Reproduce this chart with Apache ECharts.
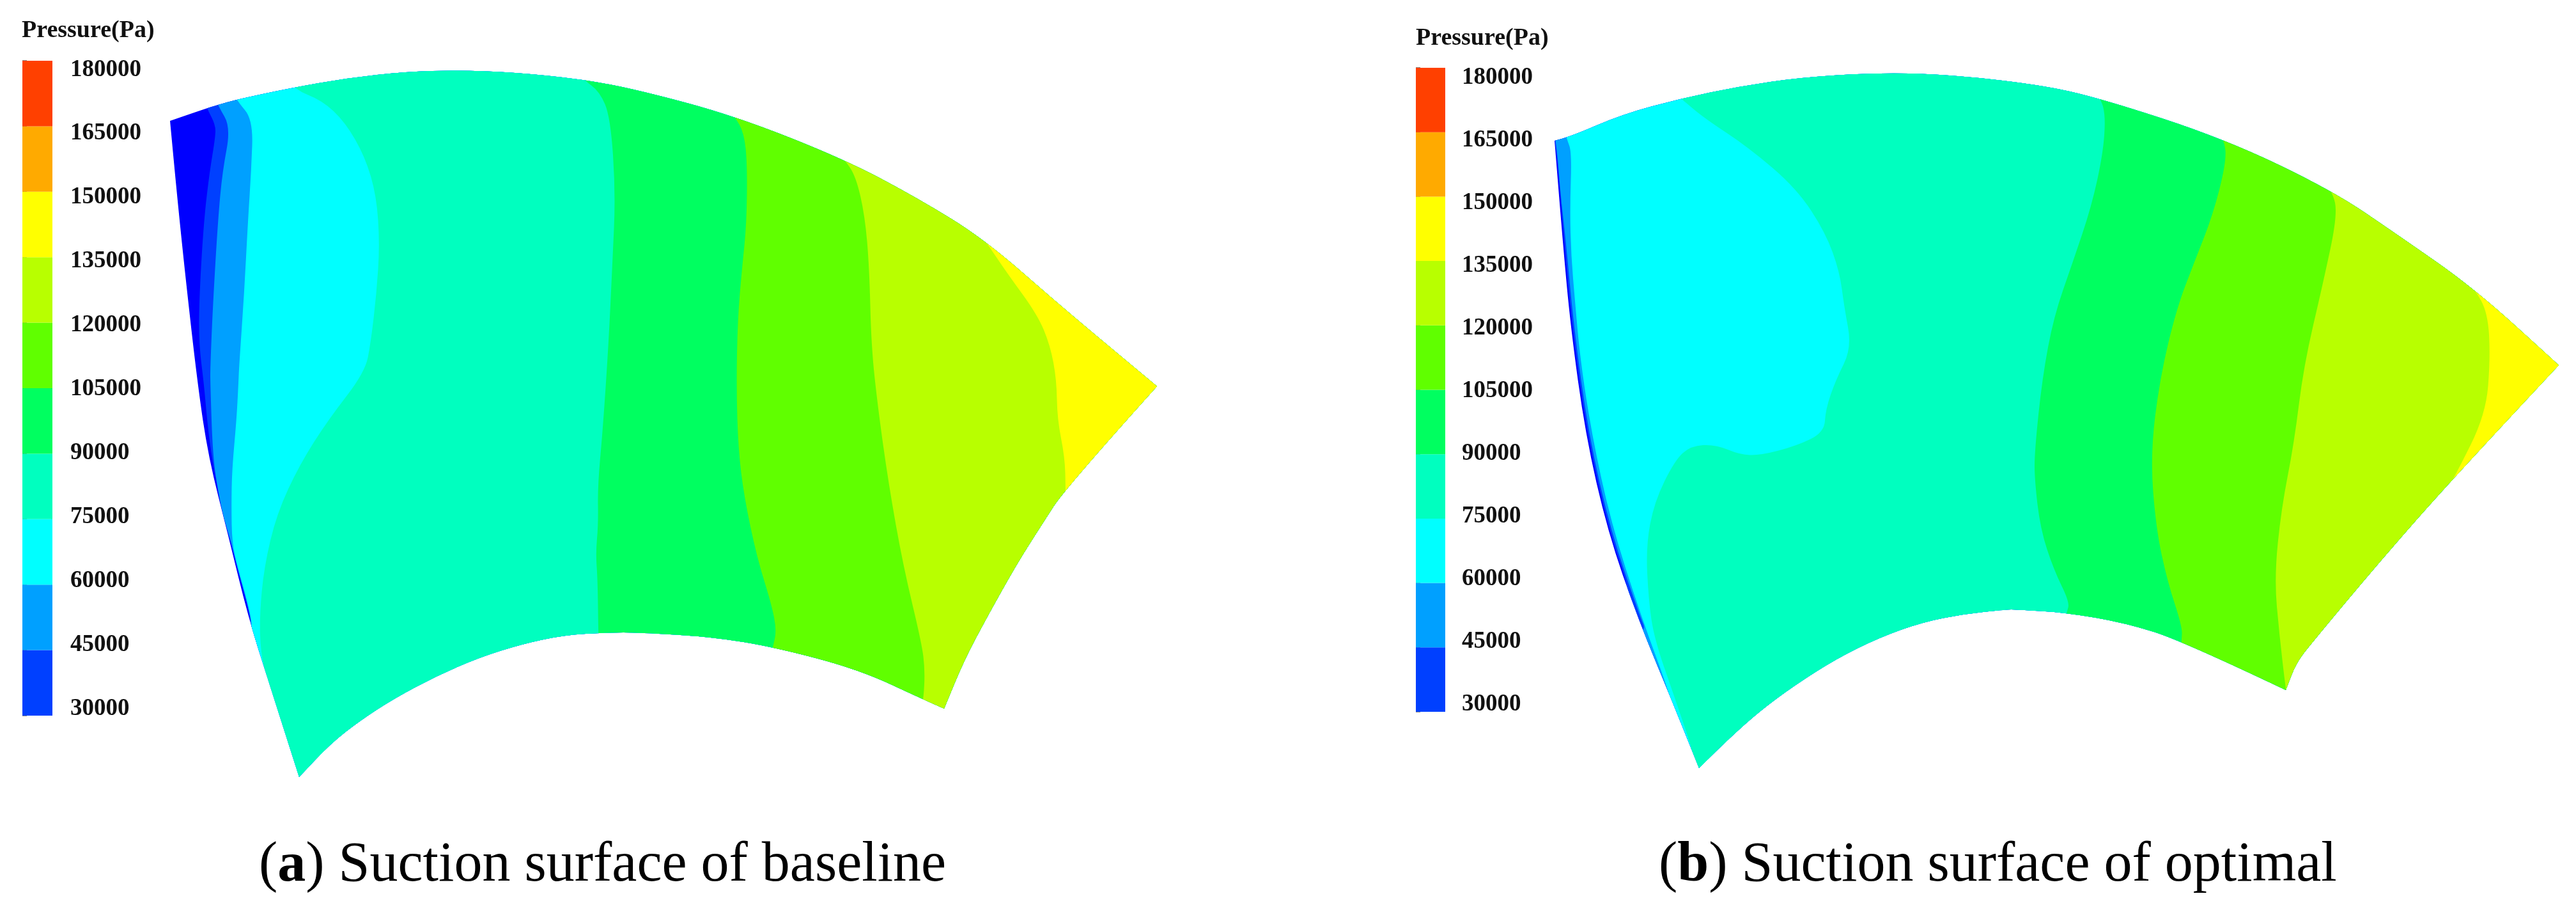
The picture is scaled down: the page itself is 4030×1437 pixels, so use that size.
<!DOCTYPE html>
<html>
<head>
<meta charset="utf-8">
<style>
html, body { margin: 0; padding: 0; background: #fff; }
#chart { width: 4030px; height: 1437px; }
</style>
<script src="https://cdn.jsdelivr.net/npm/echarts@6/dist/echarts.min.js"></script>
</head>
<body>
<div id="chart"></div>
<script>
// colour bar
const pressureLevels = [30000, 45000, 60000, 75000, 90000, 105000, 120000, 135000, 150000, 165000, 180000]
const bandColors = ['#0040ff', '#00a0ff', '#00ffff', '#00ffbf', '#00ff60', '#60ff00', '#b8ff00', '#ffff00', '#ffaa00', '#ff4000']
// blade bands, left to right, the first one is the blade background
const bladeColors = ['#0000ff', '#0040ff', '#00a0ff', '#00ffff', '#00ffbf', '#00ff60', '#60ff00', '#b8ff00', '#ffff00']

// blade outline, in picture pixels
const baselineTop = [[266, 189], [321, 170], [341, 164], [369, 156], [453, 138], [544, 122], [636, 112], [717, 110], [803, 113], [912, 124], [1000, 141], [1149, 181], [1321, 249], [1436, 310], [1540, 374], [1660, 479], [1810, 604]]
const baselineRight = [[1810, 604], [1667, 763], [1630, 820], [1590, 883], [1543, 967], [1508, 1033], [1477, 1108]]
const baselineBottom = [[1477, 1108], [1445, 1094], [1344, 1047], [1212, 1012], [1115, 996], [1000, 989], [950, 989], [883, 993], [817, 1007], [750, 1028], [683, 1057], [617, 1092], [563, 1127], [517, 1163], [468, 1215]]
const baselineLeft = [[468, 1215], [422, 1071], [388, 964], [357, 837], [326, 715], [309, 600], [290, 432], [277, 306], [266, 189]]

const optimalTop = [[2432, 220], [2454, 215], [2537, 179], [2630, 154], [2722, 135], [2818, 121], [2933, 114], [3041, 116], [3189, 132], [3287, 154], [3480, 217], [3649, 298], [3752, 368], [3871, 451], [4003, 571]]
const optimalRight = [[4003, 571], [3841, 744], [3723, 878], [3616, 1006], [3592, 1037], [3576, 1079]]
const optimalBottom = [[3576, 1079], [3414, 1002], [3325, 974], [3233, 958], [3153, 953], [3140, 953], [3073, 960], [3007, 973], [2940, 997], [2873, 1030], [2807, 1072], [2753, 1112], [2707, 1153], [2658, 1201]]
const optimalLeft = [[2658, 1201], [2620, 1106], [2563, 969], [2515, 831], [2480, 678], [2457, 510], [2445, 380], [2432, 220]]

// contour lines, each one runs a little past the outline at both ends
const baselineContours = [
    [[316, 150], [324, 170], [337, 195], [337, 214], [328, 268], [319, 344], [312, 459], [311, 536], [319, 600], [324, 657], [330, 707], [342, 772], [350, 810], [362, 849], [371, 887], [387, 944], [395, 983], [385, 995]],
    [[335, 150], [341, 165], [361, 199], [348, 268], [341, 344], [333, 478], [329, 574], [329, 600], [333, 715], [342, 772], [350, 810], [362, 849], [371, 887], [387, 944], [395, 983], [385, 995]],
    [[362, 140], [370, 157], [396, 187], [393, 268], [388, 344], [382, 459], [374, 574], [373, 600], [370, 657], [363, 734], [362, 791], [363, 849], [372, 887], [388, 944], [396, 983], [386, 995]],
    [[445, 120], [460, 140], [504, 157], [540, 191], [571, 245], [589, 306], [594, 383], [589, 459], [580, 536], [571, 582], [513, 657], [469, 726], [433, 803], [413, 887], [406, 964], [408, 1021], [417, 1059], [410, 1075]],
    [[895, 105], [912, 124], [938, 143], [955, 183], [963, 302], [958, 413], [952, 539], [943, 672], [935, 760], [936, 820], [932, 864], [935, 908], [936, 988], [937, 1010]],
    [[1130, 160], [1149, 181], [1164, 208], [1169, 256], [1168, 350], [1161, 418], [1154, 499], [1152, 607], [1155, 702], [1164, 776], [1184, 871], [1207, 945], [1215, 986], [1209, 1012], [1205, 1030]],
    [[1300, 225], [1321, 249], [1339, 276], [1353, 337], [1360, 418], [1363, 540], [1373, 634], [1390, 756], [1413, 885], [1442, 1006], [1447, 1047], [1445, 1092], [1440, 1110]],
    [[1520, 350], [1540, 374], [1574, 425], [1623, 492], [1643, 540], [1653, 594], [1654, 655], [1666, 716], [1667, 763], [1667, 790]]
]
const optimalContours = [
    [[2430, 205], [2434, 225], [2444, 340], [2458, 500], [2482, 675], [2517, 829], [2550, 925], [2540, 930]],
    [[2431, 205], [2436, 232], [2441, 300], [2450, 380], [2462, 510], [2485, 678], [2520, 831], [2566, 965], [2575, 985], [2555, 990]],
    [[2445, 195], [2451, 217], [2459, 238], [2456, 326], [2458, 400], [2464, 471], [2472, 560], [2490, 678], [2520, 816], [2566, 960], [2620, 1106], [2610, 1115]],
    [[2600, 130], [2630, 154], [2665, 184], [2735, 230], [2811, 295], [2856, 364], [2878, 425], [2885, 479], [2897, 544], [2872, 594], [2856, 640], [2854, 676], [2811, 697], [2754, 712], [2722, 711], [2684, 695], [2645, 697], [2620, 720], [2588, 785], [2575, 854], [2579, 938], [2588, 999], [2620, 1091], [2655, 1194], [2645, 1215]],
    [[3270, 130], [3287, 154], [3294, 183], [3290, 240], [3272, 323], [3242, 412], [3213, 495], [3195, 591], [3183, 706], [3183, 750], [3192, 827], [3213, 891], [3238, 942], [3233, 958], [3230, 975]],
    [[3465, 195], [3480, 217], [3483, 253], [3462, 336], [3432, 412], [3405, 483], [3379, 591], [3364, 712], [3373, 827], [3391, 910], [3414, 980], [3413, 1002], [3411, 1025]],
    [[3630, 275], [3649, 298], [3657, 336], [3634, 444], [3604, 572], [3589, 693], [3569, 795], [3558, 904], [3566, 993], [3576, 1079], [3580, 1100]],
    [[3850, 425], [3871, 451], [3892, 489], [3896, 559], [3889, 648], [3841, 744], [3825, 770]]
]

const legendTitle = 'Pressure(Pa)'
const captionA = ['a', ' Suction surface of baseline']
const captionB = ['b', ' Suction surface of optimal']

const SERIF = '"Liberation Serif", serif'

// curve through the midpoints, both ends stay where they are
function curve(pts, first) {
    let d = (first ? 'M' : 'L') + pts[0][0] + ' ' + pts[0][1]
    for (let i = 1; i < pts.length - 1; i++) {
        const mx = (pts[i][0] + pts[i + 1][0]) / 2
        const my = (pts[i][1] + pts[i + 1][1]) / 2
        d += 'Q' + pts[i][0] + ' ' + pts[i][1] + ' ' + mx + ' ' + my
    }
    const last = pts[pts.length - 1]
    return d + 'L' + last[0] + ' ' + last[1]
}

function bladeSeries(name, edges, contours) {
    return {
        name,
        type: 'custom',
        xAxisIndex: 0,
        yAxisIndex: 0,
        clip: false,
        silent: true,
        data: bladeColors.map((c, i) => [i, 0]),
        renderItem(params, api) {
            const toPx = p => api.coord(p)
            const outline = edges.map((e, i) => curve(e.map(toPx), i === 0)).join('') + 'Z'
            const i = params.dataIndex
            let d
            if (i === 0) {
                d = 'M0 0L4030 0L4030 1437L0 1437Z'
            } else {
                const line = contours[i - 1].map(toPx)
                const head = line[0]
                const tail = line[line.length - 1]
                d = curve(line, true) + 'L' + tail[0] + ' 1437L4030 1437L4030 0L' + head[0] + ' 0Z'
            }
            return {
                type: 'path',
                shape: { pathData: d },
                style: { fill: bladeColors[i] },
                clipPath: { type: 'path', shape: { pathData: outline } }
            }
        }
    }
}

function barSeries(axis) {
    return {
        type: 'custom',
        xAxisIndex: axis,
        yAxisIndex: axis,
        clip: false,
        silent: true,
        encode: { x: 0, y: [1, 2] },
        data: bandColors.map((c, i) => [0, pressureLevels[i], pressureLevels[i + 1]]),
        renderItem(params, api) {
            const a = api.coord([0, api.value(2)])
            const b = api.coord([1, api.value(1)])
            return {
                type: 'rect',
                shape: { x: a[0], y: a[1], width: b[0] - a[0], height: b[1] - a[1] },
                style: { fill: bandColors[params.dataIndex] }
            }
        }
    }
}

function hiddenX(i) {
    return { gridIndex: i, type: 'value', min: 0, max: 1, show: false }
}
function tickAxis(i) {
    return {
        gridIndex: i, type: 'value', position: 'right',
        min: 30000, max: 180000, interval: 15000,
        splitLine: { show: false },
        axisLine: { show: false },
        axisLabel: { show: false },
        axisTick: { show: true, length: 7, lineStyle: { color: '#8a8a8a', width: 2 } }
    }
}
function labelAxis(i) {
    return {
        gridIndex: i, type: 'value', position: 'right',
        min: 30000, max: 180000, interval: 15000,
        splitLine: { show: false },
        axisLine: { show: false },
        axisTick: { show: false },
        axisLabel: {
            margin: 0,
            color: '#111',
            fontFamily: SERIF,
            fontWeight: 'bold',
            fontSize: 37,
            formatter: v => String(v)
        }
    }
}

function caption(x, y, parts) {
    const font = { fontFamily: SERIF, fontSize: 88, fill: '#000', color: '#000' }
    return {
        type: 'text',
        x, y,
        silent: true,
        style: {
            text: '{n|(}{b|' + parts[0] + '}{n|)' + parts[1] + '}',
            verticalAlign: 'middle',
            rich: { n: font, b: Object.assign({ fontWeight: 'bold' }, font) }
        }
    }
}
function title(x, y) {
    return {
        type: 'text', x, y, silent: true,
        style: { text: legendTitle, fontFamily: SERIF, fontWeight: 'bold', fontSize: 38, fill: '#111', verticalAlign: 'middle' }
    }
}

const chart = echarts.init(document.getElementById('chart'))
chart.setOption({
    animation: false,
    backgroundColor: '#fff',
    grid: [
        { left: 0, top: 0, width: 4030, height: 1437 },
        { left: 35, top: 95, width: 47, height: 1024 },
        { left: 109, top: 109, width: 1, height: 999 },
        { left: 2215, top: 106, width: 46, height: 1007 },
        { left: 2286, top: 121, width: 1, height: 980 }
    ],
    xAxis: [
        { gridIndex: 0, type: 'value', min: 0, max: 4030, show: false },
        hiddenX(1), hiddenX(2), hiddenX(3), hiddenX(4)
    ],
    yAxis: [
        { gridIndex: 0, type: 'value', inverse: true, min: 0, max: 1437, show: false },
        tickAxis(1), labelAxis(2), tickAxis(3), labelAxis(4)
    ],
    graphic: [
        title(34, 48),
        title(2215, 60),
        caption(405, 1354, captionA),
        caption(2595, 1354, captionB)
    ],
    series: [
        bladeSeries('baseline', [baselineTop, baselineRight, baselineBottom, baselineLeft], baselineContours),
        bladeSeries('optimal', [optimalTop, optimalRight, optimalBottom, optimalLeft], optimalContours),
        barSeries(1),
        barSeries(3)
    ]
})
</script>
</body>
</html>
